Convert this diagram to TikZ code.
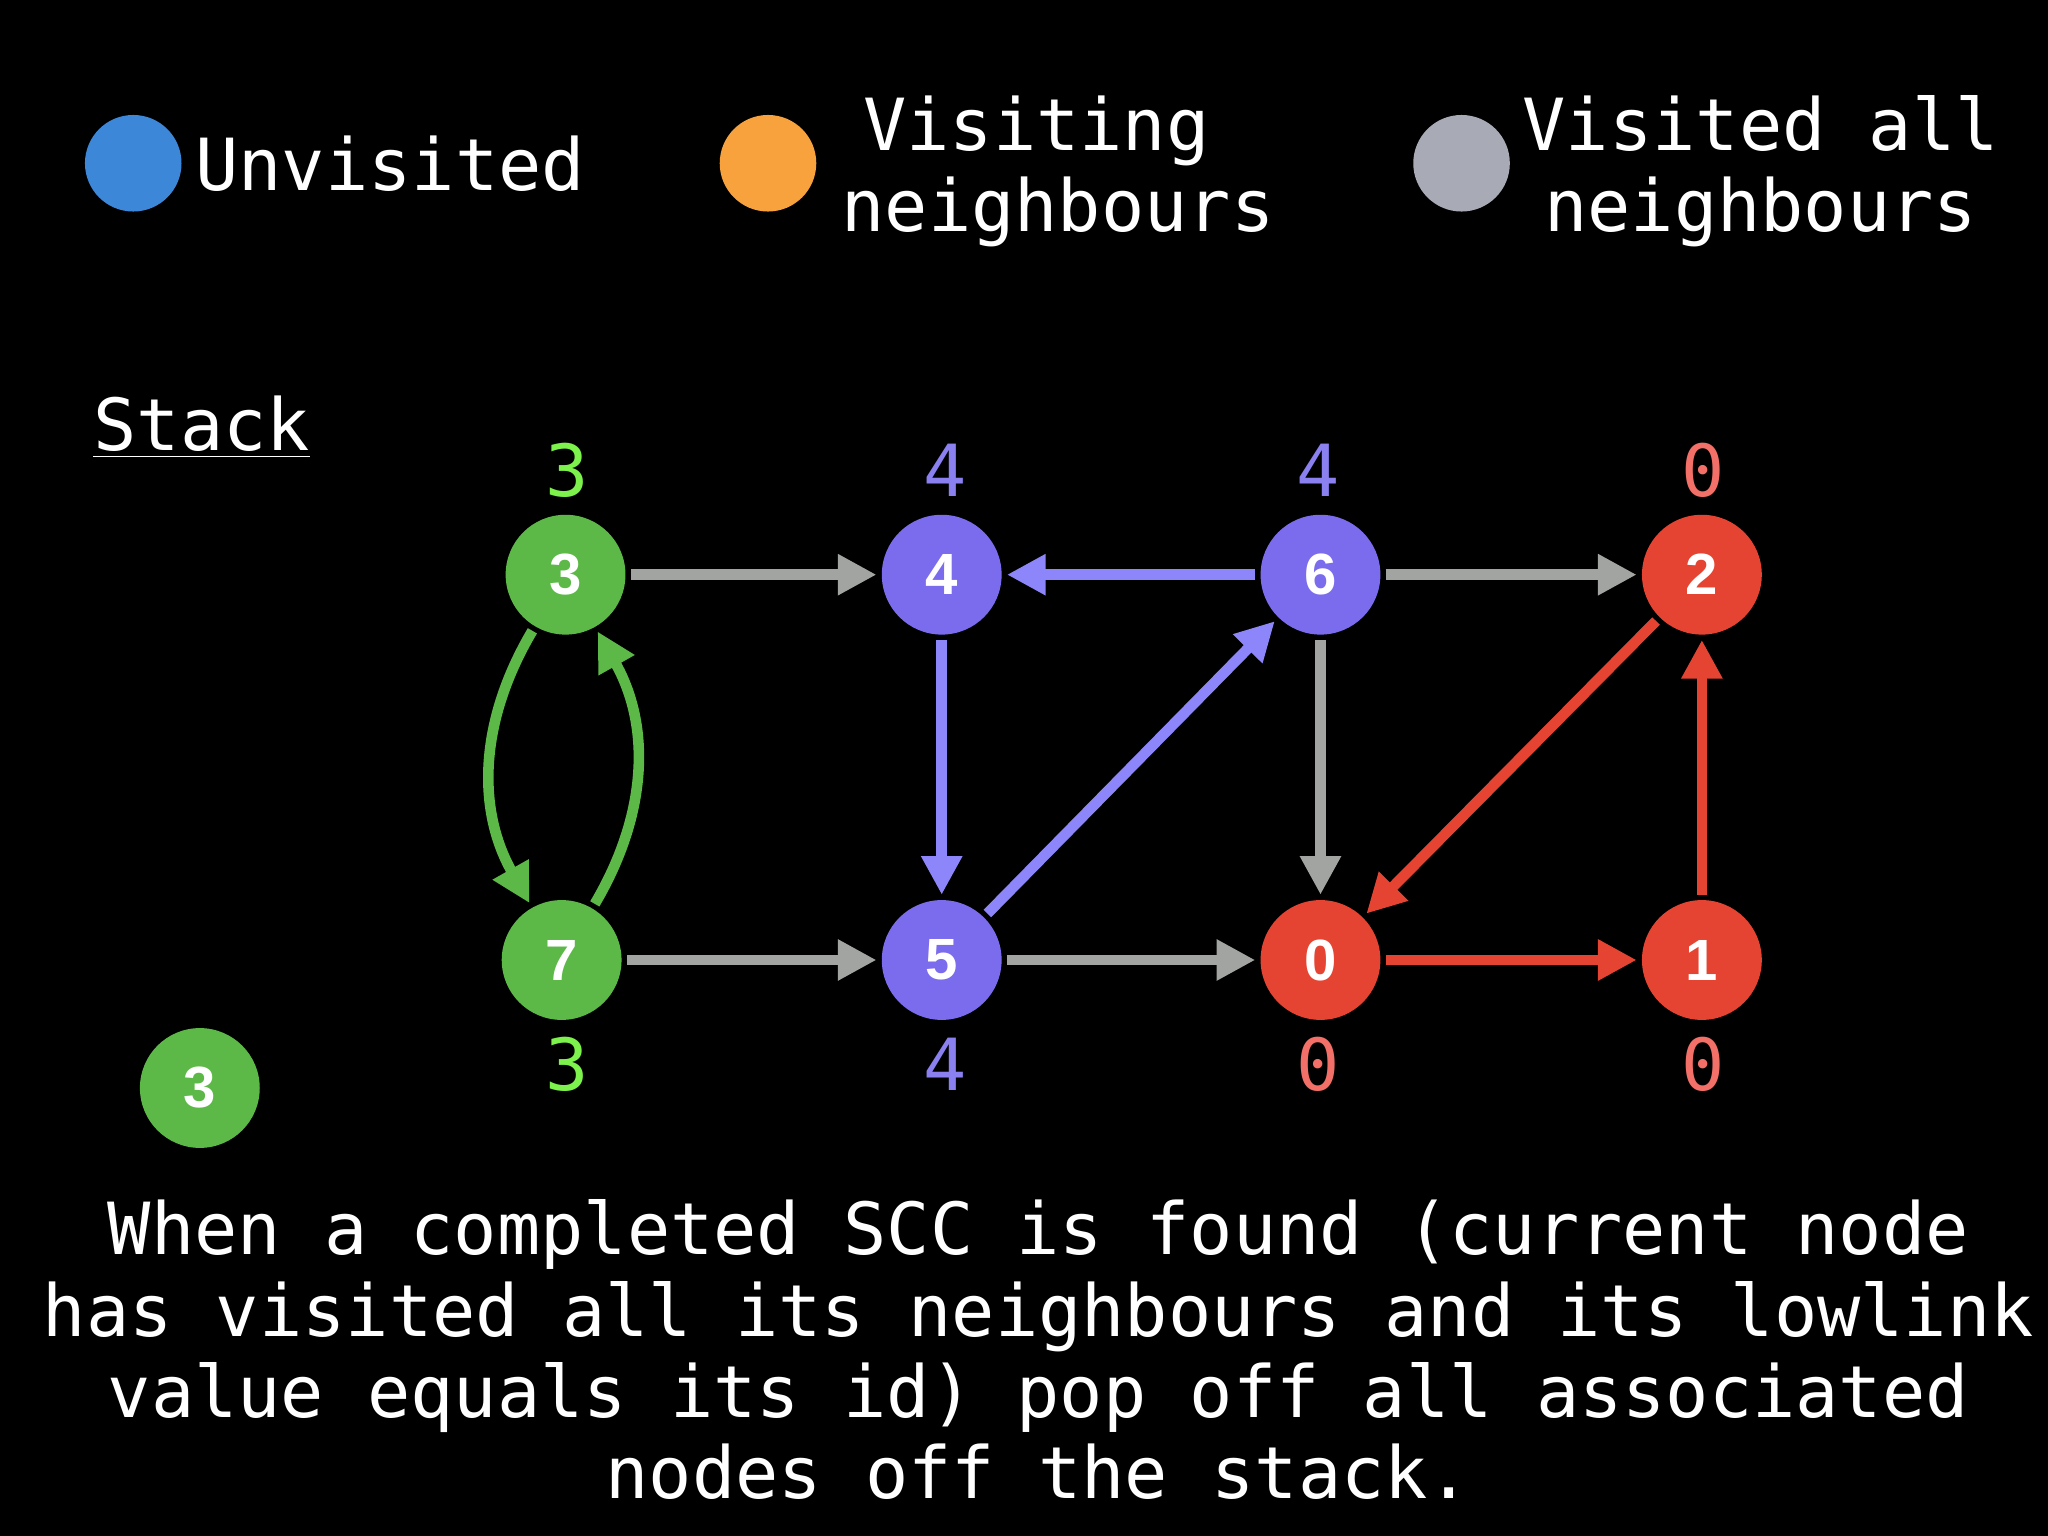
\documentclass[tikz,border=0pt]{standalone}
\usepackage{fontspec}
\setmainfont{DejaVu Sans Mono}
\newfontfamily\labelfont{Liberation Sans}
\usetikzlibrary{arrows.meta}

\definecolor{nodegreen}{HTML}{5DB947}
\definecolor{nodepurple}{HTML}{7B6CEE}
\definecolor{nodered}{HTML}{E64432}
\definecolor{edgegray}{HTML}{A2A4A1}
\definecolor{edgepurple}{HTML}{8D86FA}
\definecolor{lowgreen}{HTML}{7DF24C}
\definecolor{lowpurple}{HTML}{8B80F0}
\definecolor{lowred}{HTML}{F27068}
\definecolor{legblue}{HTML}{3D87D8}
\definecolor{legorange}{HTML}{F7A23D}
\definecolor{leggray}{HTML}{A8ABB5}

\begin{document}
\begin{tikzpicture}[x=0.3706pt, y=-0.3706pt,
    vertex/.style={circle, fill=#1, minimum size=34pt, inner sep=0pt, outer sep=1.5pt,
        text=white, font=\labelfont\bfseries\fontsize{16.5}{18}\selectfont},
    legdot/.style={circle, fill=#1, minimum size=27.4pt, inner sep=0pt},
    edge/.style={draw=#1, line width=3pt, -{Triangle[length=11pt,width=11pt]}},
    low/.style={text=#1, inner sep=0pt, font=\fontsize{20.4}{23}\selectfont},
    words/.style={text=white, inner sep=0pt, font=\fontsize{20.4}{23}\selectfont}]
            \fill[black] (0, 0) rectangle (1568, 1176);
            \useasboundingbox (0, 0) rectangle (1568, 1176);

            % legend
            \node[legdot=legblue] (dotunvisited) at (102, 125) {};
            \node[words, anchor=west] (unvisited) at (149, 125) {Unvisited};
            \node[legdot=legorange] (dotvisiting) at (588, 125) {};
            \node[words, align=center, anchor=base] (visiting) at (810, 177) {Visiting\phantom{x}\\neighbours};
            \node[legdot=leggray] (dotvisited) at (1119, 125) {};
            \node[words, align=center, anchor=base] (visited) at (1348, 177) {Visited all\\neighbours};

            \node[words, anchor=base west] (stacktitle) at (71, 345) {\underline{Stack}};
            \node[vertex=nodegreen] (s3) at (153, 833) {3};

            % graph
            \node[vertex=nodegreen] (n3) at (433, 440) {3};
            \node[vertex=nodepurple] (n4) at (721, 440) {4};
            \node[vertex=nodepurple] (n6) at (1011, 440) {6};
            \node[vertex=nodered] (n2) at (1303, 440) {2};
            \node[vertex=nodegreen] (n7) at (430, 735) {7};
            \node[vertex=nodepurple] (n5) at (721, 735) {5};
            \node[vertex=nodered] (n0) at (1011, 735) {0};
            \node[vertex=nodered] (n1) at (1303, 735) {1};

            \draw[edge=edgegray] (n3) -- (n4);
            \draw[edge=edgepurple] (n6) -- (n4);
            \draw[edge=edgegray] (n6) -- (n2);
            \draw[edge=edgepurple] (n4) -- (n5);
            \draw[edge=edgepurple] (n5) -- (n6);
            \draw[edge=edgegray] (n6) -- (n0);
            \draw[edge=nodered] (n2) -- (n0);
            \draw[edge=nodered] (n1) -- (n2);
            \draw[edge=nodered] (n0) -- (n1);
            \draw[edge=edgegray] (n7) -- (n5);
            \draw[edge=edgegray] (n5) -- (n0);
            \draw[edge=nodegreen] (n3) to[bend right=30] (n7);
            \draw[edge=nodegreen] (n7) to[bend right=30] (n3);

            % lowlink values
            \node[low=lowgreen] (low3) at (434, 360) {3};
            \node[low=lowpurple] (low4) at (724, 360) {4};
            \node[low=lowpurple] (low6) at (1009, 360) {4};
            \node[low=lowred] (low2) at (1304, 360) {0};
            \node[low=lowgreen] (low7) at (434, 815) {3};
            \node[low=lowpurple] (low5) at (724, 815) {4};
            \node[low=lowred] (low0) at (1009, 815) {0};
            \node[low=lowred] (low1) at (1304, 815) {0};

            \node[words, align=center, anchor=base] (caption) at (795, 1147) {When a completed SCC is found (current node\\has visited all its neighbours and its lowlink\\value equals its id) pop off all associated\\nodes off the stack.};
\end{tikzpicture}
\end{document}
